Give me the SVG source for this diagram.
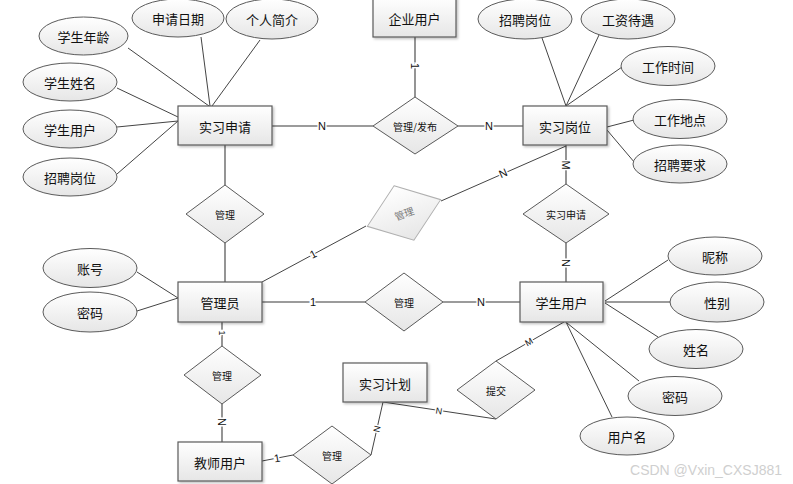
<svg xmlns="http://www.w3.org/2000/svg" width="793" height="484" viewBox="0 0 793 484">
<defs>
<linearGradient id="g" x1="0" y1="0" x2="0" y2="1">
<stop offset="0" stop-color="#ffffff"/>
<stop offset="1" stop-color="#e6e6e6"/>
</linearGradient>
<filter id="sh" x="-10%" y="-10%" width="130%" height="140%">
<feDropShadow dx="1.5" dy="1.5" stdDeviation="0.8" flood-color="#000" flood-opacity="0.25"/>
</filter>
</defs>
<style>
.ent{fill:url(#g);stroke:#5a5a5a;stroke-width:1.2;filter:url(#sh)}
.att{fill:url(#g);stroke:#5a5a5a;stroke-width:1}
.rel{fill:url(#g);stroke:#5a5a5a;stroke-width:1}
.t{font-family:"Noto Sans CJK SC","Liberation Sans",sans-serif;font-size:13px;fill:#111;text-anchor:middle;dominant-baseline:central}
.ts{font-family:"Noto Sans CJK SC","Liberation Sans",sans-serif;font-size:10px;fill:#111;text-anchor:middle;dominant-baseline:central}
.a{stroke:#444;stroke-width:1;fill:none}
.r{stroke:#7a7a7a;stroke-width:1.6;fill:none}
.c{font-family:"Liberation Sans",sans-serif;font-size:11px;fill:#111;text-anchor:middle;dominant-baseline:central;stroke:#fff;stroke-width:3;paint-order:stroke}
</style>
<rect width="793" height="484" fill="#fff"/>
<g id="connectors">
<line class="a" x1="128" y1="48" x2="209" y2="106"/>
<line class="a" x1="201" y1="37" x2="210" y2="106"/>
<line class="a" x1="260" y1="40" x2="212" y2="106"/>
<line class="a" x1="117" y1="88" x2="178" y2="117"/>
<line class="a" x1="117" y1="127" x2="178" y2="121"/>
<line class="a" x1="117" y1="174" x2="178" y2="121"/>
<line class="r" x1="272" y1="126" x2="373" y2="126"/>
<line class="r" x1="415" y1="37" x2="415" y2="97"/>
<line class="r" x1="458" y1="126" x2="523" y2="126"/>
<line class="a" x1="542" y1="38" x2="566" y2="106"/>
<line class="a" x1="599" y1="35" x2="566" y2="106"/>
<line class="a" x1="622" y1="67" x2="566" y2="106"/>
<line class="a" x1="607" y1="127" x2="634" y2="120"/>
<line class="a" x1="607" y1="130" x2="635" y2="163"/>
<line class="r" x1="566" y1="145" x2="566" y2="184"/>
<line class="r" x1="566" y1="243" x2="566" y2="282"/>
<line class="r" x1="225" y1="145" x2="225" y2="185"/>
<line class="r" x1="225" y1="243" x2="225" y2="282"/>
<line class="a" x1="262" y1="282" x2="366" y2="226"/>
<line class="a" x1="441" y1="201" x2="566" y2="146"/>
<line class="r" x1="262" y1="302" x2="365" y2="302"/>
<line class="r" x1="443" y1="302" x2="520" y2="302"/>
<line class="a" x1="137" y1="272" x2="178" y2="298"/>
<line class="a" x1="137" y1="311" x2="178" y2="298"/>
<line class="r" x1="222" y1="322" x2="222" y2="346"/>
<line class="r" x1="222" y1="404" x2="222" y2="442"/>
<line class="a" x1="262" y1="461" x2="293" y2="455"/>
<line class="a" x1="371" y1="455" x2="383" y2="402"/>
<line class="a" x1="383" y1="402" x2="496" y2="419"/>
<line class="a" x1="496" y1="361" x2="564" y2="322"/>
<line class="a" x1="605" y1="301" x2="668" y2="260"/>
<line class="r" x1="605" y1="302" x2="671" y2="302"/>
<line class="a" x1="605" y1="303" x2="658" y2="337"/>
<line class="a" x1="567" y1="323" x2="639" y2="381"/>
<line class="a" x1="566" y1="322" x2="612" y2="417"/>
<text class="c" x="322" y="126">N</text>
<text class="c" x="415" y="66" transform="rotate(90 415 66)">1</text>
<text class="c" x="489" y="126">N</text>
<text class="c" x="566" y="165" transform="rotate(90 566 165)">M</text>
<text class="c" x="566" y="263" transform="rotate(90 566 263)">N</text>
<text class="c" x="313" y="254" transform="rotate(-28 313 254)">1</text>
<text class="c" x="503" y="173" transform="rotate(-24 503 173)">N</text>
<text class="c" x="313" y="302">1</text>
<text class="c" x="481" y="302">N</text>
<text class="c" x="222" y="333" transform="rotate(90 222 333)" style="font-size:9px">1</text>
<text class="c" x="222" y="422" transform="rotate(90 222 422)">N</text>
<text class="c" x="277" y="458" transform="rotate(-10 277 458)">1</text>
<text class="c" x="377" y="429" transform="rotate(-77 377 429)" style="font-size:9px">N</text>
<text class="c" x="439" y="411" transform="rotate(9 439 411)" style="font-size:9px">N</text>
<text class="c" x="529" y="342" transform="rotate(-30 529 342)" style="font-size:9px">M</text>
</g>
<g id="n-shixishenqing"><rect class="ent" x="178" y="106" width="94" height="39"/><text class="t" x="225" y="126">实习申请</text></g>
<g id="n-qiyeyonghu"><rect class="ent" x="373" y="-3" width="83" height="40"/><text class="t" x="414.5" y="18">企业用户</text></g>
<g id="n-shixigangwei"><rect class="ent" x="523" y="106" width="84" height="39"/><text class="t" x="565" y="126">实习岗位</text></g>
<g id="n-guanliyuan"><rect class="ent" x="178" y="282" width="84" height="40"/><text class="t" x="220" y="302">管理员</text></g>
<g id="n-jiaoshiyonghu"><rect class="ent" x="178" y="442" width="84" height="39"/><text class="t" x="220" y="462">教师用户</text></g>
<g id="n-shixijihua"><rect class="ent" x="343" y="363" width="84" height="39"/><text class="t" x="385" y="383">实习计划</text></g>
<g id="n-xueshengyonghu"><rect class="ent" x="520" y="282" width="83" height="40"/><text class="t" x="561.5" y="302">学生用户</text></g>
<g id="r-guanlifabu"><polygon class="rel" points="415,97 458,126 415,154 373,126"/><text class="ts" x="415" y="126">管理/发布</text></g>
<g id="r-guanli1"><polygon class="rel" points="225,185 264,214 225,243 186,214"/><text class="ts" x="225" y="214">管理</text></g>
<g id="r-guanli2"><polygon class="rel" points="222,346 261,375 222,404 184,375"/><text class="ts" x="222" y="375">管理</text></g>
<g id="r-guanli3"><polygon class="rel" points="332,426 371,455 332,484 293,455"/><text class="ts" x="332" y="455">管理</text></g>
<g id="r-guanli4"><polygon class="rel" points="404,273 443,302 404,331 365,302"/><text class="ts" x="404" y="302">管理</text></g>
<g id="r-guanli5" transform="rotate(-20 404 213)"><polygon points="404,184 443,213 404,242 365,213" fill="url(#g)" stroke="#b0b0b0" stroke-width="1"/><text class="ts" x="404" y="213" style="fill:#777">管理</text></g>
<g id="r-shixishenqing"><polygon class="rel" points="566,184 609,214 566,243 523,214"/><text class="ts" x="566" y="214">实习申请</text></g>
<g id="r-tijiao"><polygon class="rel" points="496,361 535,390 496,419 457,390"/><text class="ts" x="496" y="390">提交</text></g>
<g id="a-nianling"><ellipse class="att" cx="83.5" cy="36" rx="44.5" ry="19"/><text class="t" x="83.5" y="36">学生年龄</text></g>
<g id="a-riqi"><ellipse class="att" cx="178" cy="18" rx="46" ry="19"/><text class="t" x="178" y="18">申请日期</text></g>
<g id="a-jianjie"><ellipse class="att" cx="272" cy="19" rx="46" ry="20"/><text class="t" x="272" y="19">个人简介</text></g>
<g id="a-xingming"><ellipse class="att" cx="70" cy="82" rx="47" ry="19"/><text class="t" x="70" y="82">学生姓名</text></g>
<g id="a-yonghu"><ellipse class="att" cx="70" cy="129" rx="47" ry="19"/><text class="t" x="70" y="129">学生用户</text></g>
<g id="a-gangwei1"><ellipse class="att" cx="70" cy="177" rx="47" ry="19"/><text class="t" x="70" y="177">招聘岗位</text></g>
<g id="a-gangwei2"><ellipse class="att" cx="525" cy="19" rx="47" ry="20"/><text class="t" x="525" y="19">招聘岗位</text></g>
<g id="a-gongzi"><ellipse class="att" cx="628" cy="19" rx="47" ry="20"/><text class="t" x="628" y="19">工资待遇</text></g>
<g id="a-shijian"><ellipse class="att" cx="668" cy="66" rx="47" ry="19.5"/><text class="t" x="668" y="66">工作时间</text></g>
<g id="a-didian"><ellipse class="att" cx="680" cy="119" rx="47" ry="19.5"/><text class="t" x="680" y="119">工作地点</text></g>
<g id="a-yaoqiu"><ellipse class="att" cx="680" cy="164" rx="47" ry="19"/><text class="t" x="680" y="164">招聘要求</text></g>
<g id="a-zhanghao"><ellipse class="att" cx="90" cy="268" rx="47" ry="19.5"/><text class="t" x="90" y="268">账号</text></g>
<g id="a-mima1"><ellipse class="att" cx="90" cy="312" rx="47" ry="20"/><text class="t" x="90" y="312">密码</text></g>
<g id="a-nicheng"><ellipse class="att" cx="715" cy="256" rx="47" ry="19"/><text class="t" x="715" y="256">昵称</text></g>
<g id="a-xingbie"><ellipse class="att" cx="717" cy="302" rx="47" ry="20"/><text class="t" x="717" y="302">性别</text></g>
<g id="a-xingming2"><ellipse class="att" cx="696" cy="349" rx="47" ry="19.5"/><text class="t" x="696" y="349">姓名</text></g>
<g id="a-mima2"><ellipse class="att" cx="675" cy="396" rx="47" ry="19.5"/><text class="t" x="675" y="396">密码</text></g>
<g id="a-yonghuming"><ellipse class="att" cx="627" cy="436" rx="47" ry="19"/><text class="t" x="627" y="436">用户名</text></g>
<text x="782" y="470" style="font-family:'Liberation Sans',sans-serif;font-size:14px;fill:#cfcfcf;text-anchor:end;dominant-baseline:central">CSDN @Vxin_CXSJ881</text>
</svg>
